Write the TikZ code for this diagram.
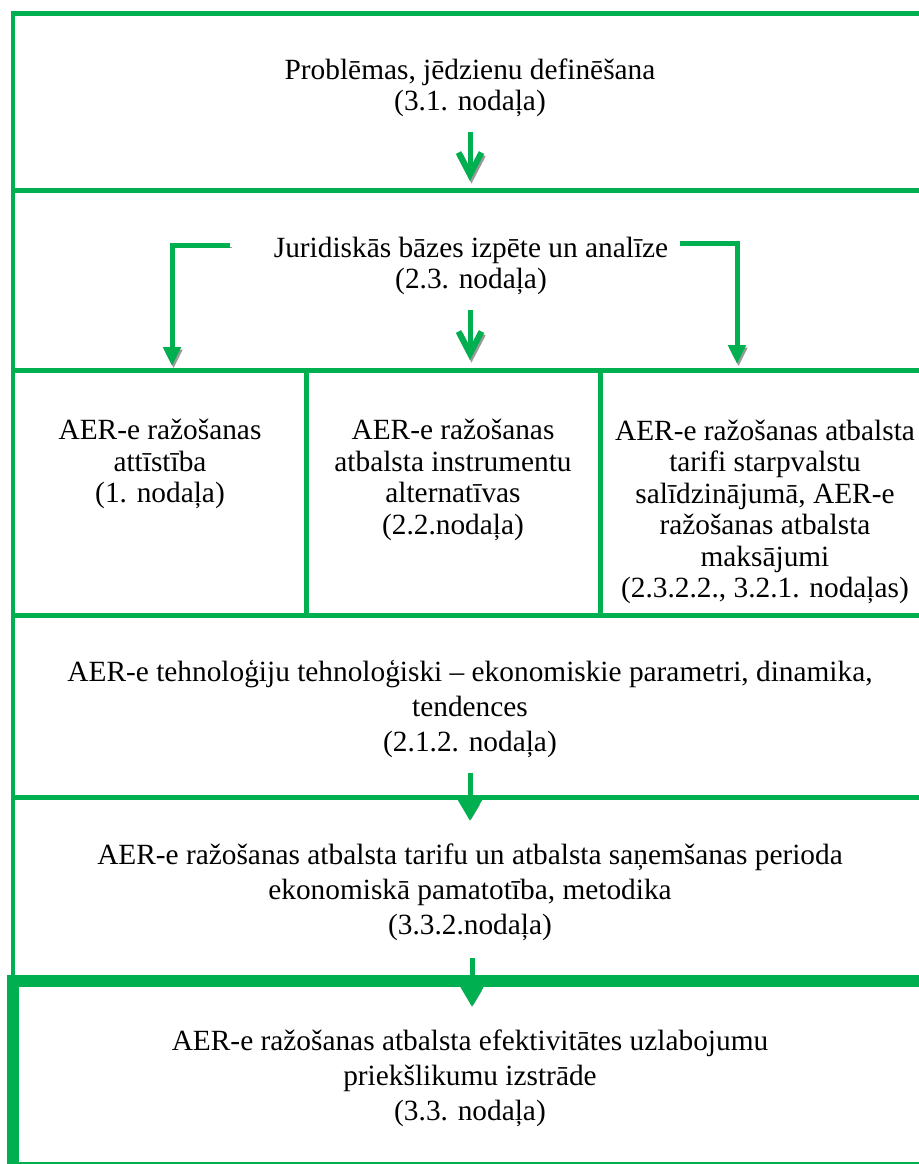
\documentclass[tikz,border=0pt]{standalone}
\usepackage{fontspec}
\setmainfont{Liberation Serif}
\usetikzlibrary{arrows.meta}
\definecolor{aergreen}{RGB}{0,176,80}

\begin{document}
\begin{tikzpicture}[x=0.02cm,y=-0.02cm,
  frame/.style={draw=aergreen,line width=0.1cm},
  heavyframe/.style={draw=aergreen,line width=0.24cm},
  txt/.style={align=center,inner sep=0pt,font=\fontsize{16.7}{17.9}\selectfont},
  wide/.style={txt,font=\fontsize{16.7}{19.8}\selectfont},
  shaft/.style={draw=aergreen,line width=0.1cm,preaction={draw=gray!80,transform canvas={shift={(0.03cm,-0.05cm)}}}},
  chev/.style={shaft,-{Straight Barb[length=0.44cm,width=0.46cm,line width=0.12cm]}},
  tri/.style={shaft,-{Triangle[length=0.38cm,width=0.34cm]}},
  bigtri/.style={shaft,-{Triangle[length=0.42cm,width=0.46cm]}}]
\useasboundingbox (0,0) rectangle (919,1164);
\draw[frame] (13,976) -- (13,13) -- (930,13);
\foreach \y in {190.5,370.5,615.5,797} \draw[frame] (13,\y) -- (930,\y);
\foreach \x in {306.5,600} \draw[frame] (\x,370.5) -- (\x,615.5);
\draw[heavyframe] (930,981) -- (13,981) -- (13,1168) -- (930,1168);
\coordinate (a1) at (470,132);
\coordinate (a2) at (470,181);
\coordinate (b1) at (470,310);
\coordinate (b2) at (470,360);
\coordinate (l1) at (230,245);
\coordinate (l2) at (172,366);
\coordinate (r1) at (680,243);
\coordinate (r2) at (737,364);
\coordinate (f1) at (470,773);
\coordinate (f2) at (470,821);
\coordinate (g1) at (472,958);
\coordinate (g2) at (472,1007);
\draw[chev] (a1) -- (a2);
\draw[chev] (b1) -- (b2);
\draw[tri] (l1) -| (l2);
\draw[tri] (r1) -| (r2);
\draw[bigtri] (f1) -- (f2);
\draw[bigtri] (g1) -- (g2);
\node[txt] (A) at (470,88) {Problēmas, jēdzienu definēšana\\(3.1. nodaļa)};
\node[txt] (B) at (471,266) {Juridiskās bāzes izpēte un analīze\\(2.3. nodaļa)};
\node[txt] (C) at (160,464) {AER-e ražošanas\\attīstība\\(1. nodaļa)};
\node[txt] (D) at (453,480) {AER-e ražošanas\\atbalsta instrumentu\\alternatīvas\\(2.2.nodaļa)};
\node[txt] (E) at (765,512) {AER-e ražošanas atbalsta\\tarifi starpvalstu\\salīdzinājumā, AER-e\\ražošanas atbalsta\\maksājumi\\(2.3.2.2., 3.2.1. nodaļas)};
\node[wide] (F) at (470,709) {AER-e tehnoloģiju tehnoloģiski – ekonomiskie parametri, dinamika,\\tendences\\(2.1.2. nodaļa)};
\node[wide] (G) at (470,892) {AER-e ražošanas atbalsta tarifu un atbalsta saņemšanas perioda\\ekonomiskā pamatotība, metodika\\(3.3.2.nodaļa)};
\node[wide] (H) at (470,1078) {AER-e ražošanas atbalsta efektivitātes uzlabojumu\\priekšlikumu izstrāde\\(3.3. nodaļa)};
\end{tikzpicture}
\end{document}
